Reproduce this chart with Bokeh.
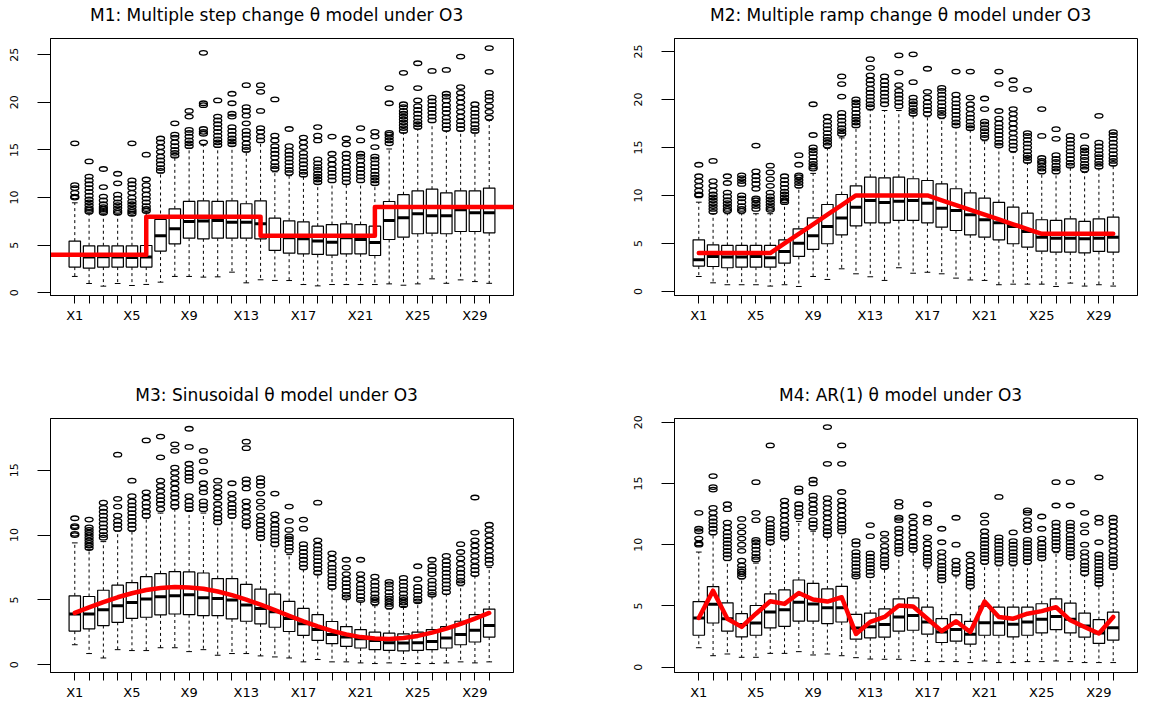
from bokeh.plotting import figure
from bokeh.layouts import column, row
from bokeh.models import Range1d, FixedTicker, LinearAxis
from bokeh.embed import file_html
from bokeh.resources import INLINE

# ---------------- data ----------------
X = list(range(1, 31))
TICK_POS = [1, 5, 9, 13, 17, 21, 25, 29]
TICK_LABELS = ["X1", "X5", "X9", "X13", "X17", "X21", "X25", "X29"]

TITLES = [
    "M1: Multiple step change  \u03b8  model under O3",
    "M2: Multiple ramp change  \u03b8  model under O3",
    "M3: Sinusoidal  \u03b8  model under O3",
    "M4: AR(1)  \u03b8  model under O3",
]

# ---- M1 ----
m1_q1 = [2.70, 2.59, 2.70, 2.70, 2.70, 2.70, 4.38, 5.15, 5.74, 5.67, 5.74, 5.74, 5.74, 5.67, 4.45,
         4.16, 4.10, 4.03, 3.96, 4.10, 4.10, 3.92, 5.60, 5.84, 6.20, 6.26, 6.20, 6.44, 6.44, 6.30]
m1_med = [4.0, 3.75, 3.8, 3.75, 3.7, 3.75, 5.99, 6.72, 7.5, 7.53, 7.6, 7.42, 7.42, 7.25, 6.0,
          5.77, 5.67, 5.43, 5.3, 5.77, 5.6, 5.28, 7.6, 7.87, 8.3, 8.1, 8.1, 8.72, 8.4, 8.4]
m1_q3 = [5.43, 4.94, 4.94, 4.94, 4.94, 4.97, 7.7, 8.82, 9.6, 9.66, 9.6, 9.66, 9.35, 9.66, 7.84,
         7.56, 7.45, 7.0, 7.17, 7.24, 7.17, 7.0, 9.59, 10.3, 10.71, 10.88, 10.5, 10.71, 10.71, 11.0]
m1_lo = [1.72, 0.98, 0.7, 0.98, 0.77, 0.88, 1.12, 1.72, 1.72, 1.65, 1.68, 2.17, 1.05, 1.37, 1.3,
         1.29, 0.87, 0.73, 0.87, 0.87, 0.87, 0.87, 0.94, 0.8, 0.94, 1.47, 1.0, 1.36, 1.18, 1.0]
m1_hi = [9.45, 8.3, 8.2, 8.2, 8.1, 8.4, 12.6, 14.25, 15.2, 15.5, 15.3, 15.4, 14.8, 15.8, 12.7,
         12.3, 12.2, 11.4, 11.6, 11.4, 11.6, 11.3, 15.1, 16.8, 17.2, 17.9, 17.0, 17.0, 16.8, 18.1]
m1_out = [
    [10.0, 10.1, 10.5, 11.0, 11.3, 15.7],
    [8.5, 8.7, 8.9, 9.2, 9.5, 9.8, 10.2, 10.6, 11.0, 11.4, 11.8, 12.2, 13.8],
    [8.4, 8.6, 8.8, 9.0, 9.3, 9.7, 10.1, 11.1, 13.0],
    [8.4, 8.6, 8.9, 9.2, 9.5, 9.9, 10.3, 11.5, 12.5],
    [8.3, 8.5, 8.7, 9.0, 9.3, 9.6, 10.0, 10.5, 11.0, 11.4, 11.8, 15.7],
    [8.6, 8.8, 9.1, 9.5, 9.9, 10.3, 10.8, 11.3, 11.9, 14.5],
    [12.8, 13.1, 13.5, 13.9, 14.3, 14.8, 15.3, 15.8, 16.2],
    [14.4, 14.7, 15.0, 15.4, 15.8, 16.3, 16.6, 17.8],
    [15.4, 15.7, 16.0, 16.4, 16.8, 17.1, 18.5, 19.1],
    [15.8, 16.7, 16.9, 17.2, 19.7, 19.9, 25.2],
    [15.5, 15.8, 16.1, 16.5, 16.9, 17.3, 17.7, 18.1, 18.5, 20.2],
    [15.6, 15.9, 16.2, 16.6, 17.0, 17.4, 18.5, 18.8, 19.9, 20.9],
    [15.0, 15.3, 15.7, 16.2, 16.6, 17.0, 17.8, 18.6, 19.1, 19.5, 21.8],
    [16.0, 16.4, 16.9, 17.3, 19.1, 21.1, 21.8],
    [13.0, 13.3, 13.7, 14.2, 14.6, 15.0, 15.4, 16.0, 16.5, 20.3],
    [12.6, 12.9, 13.3, 13.7, 14.1, 14.5, 14.9, 15.4, 17.2],
    [12.4, 12.7, 13.1, 13.5, 13.9, 14.3, 14.7, 15.3, 15.8, 16.3],
    [11.6, 11.9, 12.2, 12.5, 12.9, 13.2, 13.6, 14.0, 16.0, 16.5, 17.4],
    [11.8, 12.2, 12.6, 13.0, 13.5, 14.0, 14.6, 16.4],
    [11.6, 12.0, 12.4, 12.8, 13.2, 13.7, 14.2, 14.6, 15.6, 16.2],
    [11.8, 12.2, 12.6, 13.0, 13.4, 13.9, 14.3, 14.6, 16.0, 17.3],
    [11.5, 11.8, 12.1, 12.4, 12.8, 13.2, 13.6, 14.0, 14.3, 15.3, 16.4, 16.9],
    [15.7, 16.0, 16.3, 16.6, 16.8, 19.9, 21.5],
    [17.0, 17.3, 17.6, 17.9, 18.2, 18.5, 18.8, 19.1, 19.5, 19.8, 23.1],
    [17.4, 17.7, 18.0, 18.4, 18.8, 19.2, 19.6, 20.2, 21.5, 24.1],
    [18.1, 18.5, 18.9, 19.3, 19.7, 20.1, 20.5, 23.3],
    [17.2, 17.6, 18.0, 18.4, 18.9, 19.3, 19.7, 20.2, 20.6, 20.9, 23.4],
    [17.2, 17.6, 18.0, 18.5, 19.0, 19.5, 20.0, 20.5, 21.0, 21.6, 24.8],
    [17.0, 17.3, 17.7, 18.1, 18.5, 18.9, 19.3, 19.8],
    [18.4, 19.0, 19.6, 20.2, 20.6, 21.0, 23.2, 25.7],
]
m1_theta = [4, 4, 4, 4, 4, 4, 8, 8, 8, 8, 8, 8, 8, 8, 6,
            6, 6, 6, 6, 6, 6, 6, 9, 9, 9, 9, 9, 9, 9, 9]

# ---- M2 ----
m2_q1 = [2.64, 2.6, 2.47, 2.53, 2.53, 2.53, 2.95, 3.65, 4.38, 4.97, 5.9, 6.84, 7.15, 7.15, 7.4,
         7.4, 7.15, 6.7, 6.35, 5.9, 5.66, 5.38, 4.97, 4.62, 4.2, 4.1, 4.1, 4.03, 4.17, 4.1]
m2_med = [3.3, 3.65, 3.58, 3.58, 3.65, 3.5, 4.17, 5.03, 5.8, 6.77, 7.64, 8.78, 9.48, 9.27, 9.4,
          9.48, 9.2, 8.68, 8.44, 8.0, 7.47, 7.15, 6.77, 6.25, 5.66, 5.55, 5.55, 5.48, 5.55, 5.66]
m2_q3 = [5.38, 4.86, 4.8, 4.8, 4.8, 4.8, 5.38, 6.53, 7.67, 9.06, 10.1, 11.0, 11.9, 11.84, 11.9,
         11.74, 11.56, 11.2, 10.7, 10.28, 9.72, 9.27, 8.78, 8.16, 7.47, 7.4, 7.57, 7.3, 7.57, 7.74]
m2_lo = [1.56, 0.9, 0.7, 0.7, 0.7, 0.56, 0.7, 0.52, 1.56, 1.25, 2.36, 1.84, 1.53, 1.15, 2.47,
         1.9, 2.0, 1.84, 1.39, 1.2, 1.15, 0.7, 0.76, 0.76, 0.76, 0.52, 0.87, 0.56, 0.7, 0.56]
m2_hi = [9.3, 8.1, 8.1, 8.1, 8.1, 8.1, 9.1, 10.8, 12.3, 14.9, 16.0, 17.1, 18.9, 18.85, 18.85,
         18.3, 18.2, 18.0, 17.1, 16.8, 15.7, 15.0, 14.5, 13.4, 12.26, 12.26, 12.95, 12.4, 12.8, 13.1]
m2_out = [
    [10.0, 10.1, 10.5, 11.0, 11.5, 12.0, 13.2],
    [8.3, 8.6, 8.9, 9.2, 9.5, 9.8, 10.1, 10.5, 11.0, 11.5, 13.6],
    [8.4, 8.6, 8.9, 9.2, 9.5, 9.9, 10.3, 11.3, 12.0],
    [8.4, 8.6, 8.9, 9.3, 9.7, 10.0, 11.2, 11.5, 11.8, 12.1],
    [8.6, 8.9, 9.2, 9.5, 9.7, 10.7, 11.2, 11.6, 12.0, 12.5, 15.2],
    [8.5, 8.7, 9.0, 9.3, 9.6, 9.9, 10.3, 11.0, 11.7, 12.4, 13.1],
    [9.3, 9.5, 9.8, 10.1, 10.4, 10.8, 11.2, 11.6, 12.0],
    [11.0, 11.3, 11.6, 11.9, 12.1, 13.2, 14.2],
    [12.8, 13.0, 13.3, 13.6, 14.0, 14.4, 14.7, 15.0, 16.3, 19.5],
    [15.2, 15.5, 15.8, 16.1, 16.5, 16.9, 17.3, 17.7, 18.2],
    [16.4, 16.7, 17.0, 17.4, 17.8, 18.2, 18.6, 20.3, 21.6, 22.4],
    [17.3, 17.6, 17.9, 18.2, 18.6, 19.0, 19.4, 19.7, 20.0],
    [19.2, 19.5, 19.9, 20.3, 20.7, 21.1, 21.6, 22.0, 22.5, 23.3, 24.2],
    [19.5, 19.9, 20.3, 20.7, 21.1, 21.5, 21.9, 22.4],
    [19.3, 19.7, 20.1, 20.5, 20.9, 21.5, 22.8, 24.6],
    [18.5, 18.8, 19.1, 19.5, 19.8, 20.2, 21.8, 24.7],
    [18.5, 18.9, 19.3, 19.7, 20.2, 20.8, 23.2],
    [18.3, 18.6, 18.9, 19.3, 19.7, 20.1, 20.5, 20.9, 21.2],
    [17.3, 17.6, 18.0, 18.4, 18.8, 19.2, 19.6, 20.0, 20.5, 22.9],
    [17.0, 17.3, 17.7, 18.1, 18.5, 19.0, 19.5, 20.2, 22.9],
    [16.0, 16.3, 16.7, 17.0, 17.4, 17.7, 19.0, 20.1],
    [15.2, 15.5, 15.9, 16.3, 16.7, 17.1, 17.5, 18.0, 18.8, 21.6, 22.9],
    [14.8, 15.2, 15.6, 16.0, 16.5, 17.0, 17.5, 18.0, 18.5, 19.0, 21.1, 22.0],
    [13.6, 13.9, 14.2, 14.6, 15.0, 15.4, 15.8, 16.2, 16.5, 21.0],
    [12.5, 12.8, 13.1, 13.4, 13.6, 13.9, 16.2, 19.0],
    [12.5, 12.8, 13.1, 13.5, 13.8, 14.2, 15.9, 16.9],
    [13.1, 13.4, 13.8, 14.2, 14.6, 15.0, 15.4, 15.8, 16.2],
    [12.7, 13.0, 13.3, 13.7, 14.0, 14.4, 14.7, 15.0, 16.2],
    [13.0, 13.3, 13.6, 14.0, 14.3, 14.7, 15.1, 15.5, 18.3],
    [13.3, 13.6, 13.9, 14.3, 14.7, 15.1, 15.5, 15.9, 16.3, 16.6],
]
m2_theta = [4, 4, 4, 4, 4, 4, 5, 6, 7, 8, 9, 10, 10, 10, 10,
            10, 10, 9.5, 9, 8.5, 8, 7.5, 7, 6.5, 6, 6, 6, 6, 6, 6]

# ---- M3 ----
m3_q1 = [2.6, 2.78, 3.03, 3.28, 3.59, 3.67, 3.85, 3.92, 3.87, 3.79, 3.79, 3.54, 3.36, 3.16, 2.9,
         2.57, 2.27, 1.88, 1.63, 1.43, 1.3, 1.17, 1.12, 1.07, 1.12, 1.17, 1.3, 1.55, 1.76, 2.14]
m3_med = [3.92, 3.92, 4.25, 4.56, 4.81, 5.07, 5.25, 5.32, 5.4, 5.17, 5.12, 4.99, 4.61, 4.35, 4.1,
          3.57, 3.16, 2.72, 2.34, 2.14, 2.01, 1.88, 1.7, 1.68, 1.7, 1.8, 2.06, 2.34, 2.67, 3.03]
m3_q3 = [5.32, 5.27, 5.75, 6.14, 6.34, 6.8, 7.03, 7.18, 7.16, 7.08, 6.65, 6.65, 6.21, 5.83, 5.45,
         4.89, 4.35, 3.87, 3.34, 2.95, 2.72, 2.52, 2.44, 2.39, 2.52, 2.72, 2.95, 3.36, 3.87, 4.3]
m3_lo = [1.55, 0.87, 0.53, 1.17, 1.1, 1.1, 1.32, 1.32, 1.02, 1.17, 0.74, 0.87, 0.87, 0.69, 0.61,
         0.53, 0.23, 0.41, 0.23, 0.23, 0.15, 0.1, 0.15, 0.1, 0.1, 0.1, 0.15, 0.23, 0.15, 0.23]
m3_hi = [9.4, 8.9, 9.5, 10.3, 10.3, 11.3, 11.7, 12.0, 11.9, 11.7, 10.8, 11.3, 10.6, 9.6, 9.1,
         8.5, 7.36, 6.98, 5.83, 5.07, 4.94, 4.56, 4.3, 4.5, 4.8, 5.3, 5.45, 6.09, 6.85, 7.5]
m3_out = [
    [10.0, 10.1, 10.6, 10.7, 11.3],
    [9.0, 9.2, 9.4, 9.6, 9.8, 10.0, 10.2, 10.4, 10.6, 11.2],
    [9.8, 10.0, 10.3, 10.6, 10.9, 11.2, 11.5, 11.8, 12.1, 12.5],
    [10.5, 10.8, 11.1, 11.5, 12.2, 12.8, 16.2],
    [10.5, 10.8, 11.1, 11.4, 11.7, 12.0, 12.3, 12.6, 13.0, 14.2],
    [11.5, 11.8, 12.2, 12.5, 12.9, 13.3, 17.3],
    [12.0, 12.4, 12.7, 13.0, 13.4, 13.8, 14.2, 16.0, 17.6],
    [12.2, 12.5, 12.9, 13.2, 13.6, 14.0, 14.4, 14.8, 15.2, 16.5, 17.0],
    [12.0, 12.3, 12.6, 13.0, 14.2, 14.5, 14.8, 15.1, 15.5, 16.8, 18.2],
    [12.0, 12.3, 12.6, 13.3, 13.6, 14.0, 14.9, 15.7, 16.5],
    [11.0, 11.3, 11.6, 12.0, 12.4, 12.9, 13.3, 13.7, 14.2],
    [11.5, 11.8, 12.1, 12.4, 12.8, 13.2, 14.0],
    [10.7, 11.0, 11.4, 11.8, 12.2, 12.6, 13.6, 14.0, 14.3, 16.7, 17.2],
    [9.8, 10.1, 10.4, 10.8, 11.1, 11.5, 12.1, 12.6, 13.2, 13.8, 14.1, 14.4],
    [9.3, 9.6, 9.9, 10.2, 10.5, 10.8, 11.2, 11.6, 13.2],
    [8.8, 9.1, 9.4, 9.7, 9.9, 10.4, 11.1, 12.2],
    [7.5, 7.8, 8.1, 8.4, 8.7, 9.0, 9.3, 10.5, 11.2],
    [7.1, 7.4, 7.7, 8.0, 8.3, 8.6, 8.9, 9.2, 9.6, 12.5],
    [6.0, 6.3, 6.6, 6.9, 7.2, 7.5, 7.8, 8.2, 8.6],
    [5.2, 5.4, 5.7, 6.0, 6.3, 6.6, 7.0, 7.5, 8.1],
    [5.0, 5.3, 5.6, 5.9, 6.2, 6.6, 7.0, 8.1],
    [4.8, 5.0, 5.2, 5.5, 5.8, 6.1, 6.4, 6.8],
    [4.5, 4.7, 4.9, 5.1, 5.3, 5.6, 5.9, 6.2, 6.4],
    [4.6, 4.8, 5.0, 5.2, 5.5, 5.8, 6.1, 6.4, 6.7],
    [4.9, 5.1, 5.4, 5.7, 6.0, 6.6, 7.6],
    [5.4, 5.6, 5.9, 6.2, 6.5, 7.0, 7.3, 7.6, 8.1],
    [5.6, 5.9, 6.2, 6.5, 6.8, 7.1, 7.4, 7.7, 8.0, 8.4],
    [6.3, 6.5, 6.8, 7.1, 7.4, 7.8, 8.2, 8.7, 9.3],
    [7.0, 7.3, 7.6, 8.0, 8.4, 8.8, 9.2, 9.6, 10.2, 12.9],
    [7.8, 8.1, 8.4, 8.8, 9.2, 9.6, 10.0, 10.4, 10.8],
]
m3_theta = [4.00, 4.43, 4.84, 5.21, 5.52, 5.77, 5.93, 6.00, 5.97, 5.86, 5.65, 5.37, 5.03, 4.64, 4.22,
            3.78, 3.36, 2.97, 2.62, 2.35, 2.14, 2.03, 2.00, 2.07, 2.23, 2.48, 2.79, 3.16, 3.57, 4.00]

# ---- M4 ----
m4_q1 = [2.61, 3.61, 2.94, 2.48, 2.61, 3.21, 3.34, 3.77, 3.77, 3.56, 3.69, 2.29, 2.4, 2.45, 2.94,
         3.02, 2.7, 2.02, 2.13, 1.89, 2.61, 2.61, 2.48, 2.61, 2.8, 3.07, 2.8, 2.45, 1.94, 2.21]
m4_med = [4.02, 5.15, 3.96, 3.48, 3.61, 4.5, 4.69, 5.31, 5.17, 4.85, 4.85, 3.21, 3.3, 3.48, 4.1,
          4.23, 3.69, 2.88, 3.07, 2.7, 3.64, 3.64, 3.5, 3.69, 3.91, 4.15, 3.91, 3.37, 2.8, 3.23]
m4_q3 = [5.36, 6.58, 5.26, 4.37, 5.04, 5.98, 6.31, 7.12, 6.85, 6.39, 6.6, 4.31, 4.42, 4.77, 5.58,
         5.66, 4.9, 3.96, 4.29, 3.75, 4.99, 4.9, 4.9, 4.9, 5.18, 5.58, 5.23, 4.42, 3.88, 4.5]
m4_lo = [1.59, 0.94, 1.08, 0.81, 0.81, 1.13, 1.13, 1.27, 1.0, 1.08, 0.94, 0.78, 0.67, 0.65, 0.65,
         0.54, 0.46, 0.46, 0.46, 0.38, 0.51, 0.38, 0.38, 0.46, 0.46, 0.51, 0.46, 0.38, 0.38, 0.38]
m4_hi = [9.4, 10.8, 8.7, 7.2, 8.5, 10.0, 10.4, 11.9, 11.1, 10.6, 10.9, 7.25, 7.33, 8.0, 9.1,
         9.4, 8.1, 6.9, 7.45, 6.4, 8.4, 8.27, 8.27, 8.4, 8.7, 9.35, 8.8, 7.47, 6.66, 8.0]
m4_out = [
    [10.0, 10.1, 10.5, 11.1, 11.3, 12.6],
    [11.0, 11.3, 11.6, 11.9, 12.2, 12.6, 13.0, 14.5, 14.7, 15.6],
    [8.9, 9.2, 9.5, 9.8, 10.1, 10.4, 10.7, 11.0, 11.4, 11.8, 12.9, 13.3],
    [7.4, 7.6, 7.8, 8.0, 8.3, 8.7, 9.5, 10.0, 10.5, 11.0, 11.5, 12.1],
    [8.8, 9.0, 9.3, 9.6, 9.9, 10.2, 10.4, 12.0, 12.6, 15.1],
    [10.2, 10.5, 10.8, 11.1, 11.4, 11.7, 12.1, 18.1],
    [10.6, 10.9, 11.2, 11.6, 12.0, 12.4, 12.8, 13.2, 13.6],
    [12.3, 12.6, 13.0, 13.3, 14.3, 14.6],
    [11.4, 11.7, 12.0, 12.6, 12.9, 13.3, 13.7, 14.0, 15.0, 15.3],
    [10.8, 11.1, 11.4, 11.8, 12.2, 12.6, 13.0, 13.4, 13.8, 16.6, 19.6],
    [11.1, 11.4, 11.7, 12.0, 12.4, 12.8, 13.2, 13.6, 14.3, 16.6, 18.1],
    [7.4, 7.6, 7.9, 8.2, 8.5, 8.8, 9.1, 9.4, 10.0, 10.3],
    [7.5, 7.8, 8.1, 8.4, 8.7, 9.0, 9.3, 10.7, 11.6],
    [8.2, 8.5, 8.8, 9.1, 9.5, 9.9, 10.4, 10.9],
    [9.3, 9.6, 9.9, 10.2, 10.6, 11.0, 11.3, 12.0, 12.2, 13.1, 13.5],
    [9.6, 9.9, 10.2, 10.6, 11.0, 11.4, 11.8, 12.3],
    [8.4, 8.7, 9.0, 9.3, 9.7, 10.1, 10.6, 11.8, 12.2, 13.3],
    [7.1, 7.4, 7.7, 8.0, 8.3, 8.6, 9.0, 9.4, 10.2, 11.3],
    [7.7, 8.0, 8.3, 8.7, 10.0, 12.2],
    [6.6, 6.9, 7.2, 7.5, 7.9, 8.3, 8.7, 9.2],
    [8.6, 8.9, 9.2, 9.5, 9.8, 10.1, 10.4, 10.7, 11.1, 11.8, 12.4],
    [8.5, 8.8, 9.1, 9.4, 9.7, 10.0, 10.3, 10.6, 13.9],
    [8.5, 8.8, 9.1, 9.4, 9.7, 10.0, 10.3, 11.0],
    [8.6, 8.9, 9.2, 9.5, 9.8, 10.1, 10.4, 11.2, 11.6, 12.0, 12.6, 12.8],
    [8.9, 9.2, 9.5, 9.8, 10.1, 10.5, 11.3, 12.3],
    [9.6, 9.9, 10.2, 10.5, 10.8, 11.1, 11.5, 11.8, 13.2, 15.1],
    [9.0, 9.3, 9.6, 9.9, 10.2, 10.5, 10.8, 11.2, 11.5, 11.8, 13.2, 15.1],
    [7.7, 8.0, 8.3, 8.6, 9.0, 9.4, 10.0, 11.0, 11.6, 12.6],
    [6.8, 7.1, 7.4, 7.7, 8.0, 8.3, 8.6, 8.9, 9.2, 10.2, 11.8, 12.2, 15.5],
    [8.2, 8.5, 8.8, 9.1, 9.5, 9.9, 10.3, 10.7, 11.1, 11.5, 11.9, 12.2],
]
m4_theta = [4.02, 6.25, 3.96, 3.29, 4.37, 5.39, 5.17, 6.06, 5.53, 5.36, 5.71, 2.72, 3.7, 4.1, 5.04,
            4.96, 3.96, 2.95, 3.75, 2.88, 5.36, 4.1, 3.96, 4.37, 4.58, 4.9, 3.83, 3.29, 2.75, 4.1]

Y_RANGES = [(-0.28, 26.7), (-0.42, 26.35), (-0.59, 18.99), (-0.43, 20.3)]
Y_TICKS = [[0, 5, 10, 15, 20, 25], [0, 5, 10, 15, 20, 25], [0, 5, 10, 15], [0, 5, 10, 15, 20]]

FONT = "DejaVu Sans"


def panel(title, q1, med, q3, lo, hi, outs, theta, yr, yt, border_l, border_r, border_t, border_b,
          height, step=False):
    p = figure(width=584, height=height, output_backend="svg", toolbar_location=None,
               x_range=Range1d(-0.7, 31.7), y_range=Range1d(*yr),
               min_border_left=border_l, min_border_right=border_r,
               min_border_top=border_t, min_border_bottom=border_b,
               title=title)
    p.title.align = "center"
    p.title.text_font = FONT
    p.title.text_font_size = "17px"
    p.title.text_font_style = "normal"
    p.title.text_color = "black"
    p.title.standoff = 0
    # invisible spacer between the title and the frame
    spacer = LinearAxis(ticker=FixedTicker(ticks=[15.5]), major_tick_out=14, major_tick_in=0,
                        major_label_standoff=0, axis_line_color=None,
                        major_tick_line_color=None, minor_tick_line_color=None,
                        major_label_overrides={15.5: ""},
                        major_label_text_font_size="1px")
    p.add_layout(spacer, "above")
    p.background_fill_color = "white"
    p.border_fill_color = "white"
    p.outline_line_color = "black"
    p.outline_line_width = 1
    p.xgrid.visible = False
    p.ygrid.visible = False

    half = 0.4
    cap = 0.2
    # whiskers
    p.segment(x0=X, x1=X, y0=q3, y1=hi, line_color="black", line_width=1, line_dash="3 3")
    p.segment(x0=X, x1=X, y0=q1, y1=lo, line_color="black", line_width=1, line_dash="3 3")
    p.segment(x0=[x - cap for x in X], x1=[x + cap for x in X], y0=hi, y1=hi,
              line_color="black", line_width=1)
    p.segment(x0=[x - cap for x in X], x1=[x + cap for x in X], y0=lo, y1=lo,
              line_color="black", line_width=1)
    # boxes
    p.vbar(x=X, width=2 * half, top=q3, bottom=q1, fill_color="white",
           line_color="black", line_width=1.2)
    p.segment(x0=[x - half for x in X], x1=[x + half for x in X], y0=med, y1=med,
              line_color="black", line_width=3)
    # outliers
    ox = [X[i] for i, lst in enumerate(outs) for _ in lst]
    oy = [v for lst in outs for v in lst]
    p.ellipse(x=ox, y=oy, width=8, height=4.5, width_units="screen", height_units="screen",
              fill_color=None, line_color="black", line_width=1.3)
    # theta line
    if step:
        xs = [-1]
        ys = [theta[0]]
        for t in range(len(theta) - 1):
            xs += [X[t], X[t]]
            ys += [theta[t], theta[t + 1]]
        xs.append(33)
        ys.append(theta[-1])
        p.line(xs, ys, line_color="red", line_width=4.5, line_join="round")
    else:
        p.line(X, theta, line_color="red", line_width=4.5, line_join="round", line_cap="round")

    # axes
    xa = p.below[0]
    xa.ticker = FixedTicker(ticks=X)
    overrides = {}
    for t in X:
        overrides[t] = TICK_LABELS[TICK_POS.index(t)] if t in TICK_POS else ""
    xa.major_label_overrides = overrides
    xa.major_tick_out = 8
    xa.major_tick_in = 0
    xa.minor_tick_line_color = None
    xa.major_label_standoff = 4
    xa.major_label_text_font = FONT
    xa.major_label_text_font_size = "13px"
    xa.major_label_text_color = "black"
    xa.axis_line_color = "black"
    xa.major_tick_line_color = "black"

    ya = p.left[0]
    ya.ticker = FixedTicker(ticks=yt)
    ya.major_tick_out = 13
    ya.major_tick_in = 0
    ya.minor_tick_line_color = None
    ya.major_label_orientation = "vertical"
    ya.major_label_standoff = 19
    ya.major_label_text_font = FONT
    ya.major_label_text_font_size = "11px"
    ya.major_label_text_color = "black"
    ya.axis_line_color = "black"
    ya.major_tick_line_color = "black"
    return p


p1 = panel(TITLES[0], m1_q1, m1_med, m1_q3, m1_lo, m1_hi, m1_out, m1_theta, Y_RANGES[0], Y_TICKS[0],
           50, 71, 38, 56, 351, step=True)
p2 = panel(TITLES[1], m2_q1, m2_med, m2_q3, m2_lo, m2_hi, m2_out, m2_theta, Y_RANGES[1], Y_TICKS[1],
           90, 31, 38, 56, 351)
p3 = panel(TITLES[2], m3_q1, m3_med, m3_q3, m3_lo, m3_hi, m3_out, m3_theta, Y_RANGES[2], Y_TICKS[2],
           50, 71, 67, 28, 351)
p4 = panel(TITLES[3], m4_q1, m4_med, m4_q3, m4_lo, m4_hi, m4_out, m4_theta, Y_RANGES[3], Y_TICKS[3],
           90, 31, 67, 28, 351)

layout = column(row(p1, p2), row(p3, p4))
open("out.html", "w").write(file_html(layout, INLINE))
